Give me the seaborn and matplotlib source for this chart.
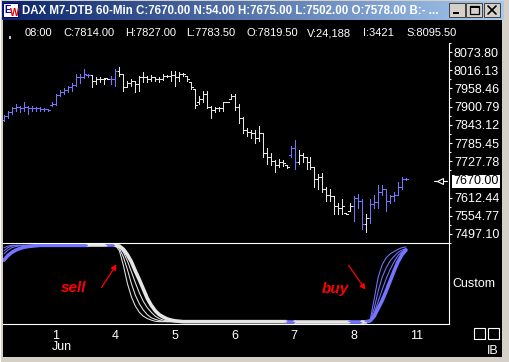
import numpy as np
import pandas as pd
import matplotlib
matplotlib.use("Agg")
import matplotlib.pyplot as plt
import seaborn as sns
from matplotlib.patches import Rectangle
from matplotlib.colors import LinearSegmentedColormap

sns.set_style("dark")
plt.rcParams['font.family'] = ['Liberation Sans', 'DejaVu Sans']

# ---- data (60-min DAX bars, 31 May .. 8 Jun) ----
highs = [7873, 7886, 7901, 7910, 7904, 7914, 7904, 7904, 7901, 7901, 7898, 7892, 7917, 7941, 7954, 7960, 7966, 7976,
         8003, 8003, 8019, 8003, 8000, 7994, 7994, 7991, 7991, 7997, 8019, 8025, 8003, 7982, 7988, 7982, 7997, 8010,
         7997, 8000, 7994, 7994, 8003, 8000, 8013, 8013, 8010, 8007, 7997, 7979, 7957, 7935, 7951, 7951, 7904, 7901,
         7901, 7917, 7917, 7941, 7941, 7910, 7867, 7833, 7827, 7827, 7839, 7817, 7771, 7755, 7731, 7734, 7731, 7715,
         7777, 7796, 7762, 7755, 7740, 7740, 7709, 7687, 7690, 7647, 7641, 7616, 7594, 7607, 7563, 7594, 7616, 7625,
         7607, 7560, 7607, 7622, 7653, 7653, 7641, 7622, 7631, 7662, 7678, 7675]
lows = [7855, 7864, 7879, 7886, 7883, 7886, 7879, 7886, 7886, 7886, 7886, 7886, 7904, 7907, 7935, 7941, 7948, 7951,
        7966, 7976, 7991, 7994, 7963, 7972, 7979, 7972, 7988, 7972, 7966, 7997, 7951, 7963, 7966, 7948, 7951, 7979,
        7979, 7982, 7982, 7979, 7985, 7994, 7982, 7966, 7982, 7997, 7982, 7957, 7895, 7910, 7917, 7895, 7864, 7883,
        7886, 7886, 7914, 7926, 7889, 7848, 7817, 7808, 7802, 7786, 7793, 7740, 7718, 7715, 7693, 7709, 7712, 7706,
        7740, 7703, 7718, 7724, 7703, 7703, 7647, 7638, 7631, 7600, 7600, 7560, 7560, 7560, 7560, 7569, 7538, 7579,
        7514, 7502, 7532, 7579, 7579, 7622, 7569, 7594, 7600, 7625, 7641, 7669]
opens = [7858, 7870, 7883, 7895, 7901, 7895, 7901, 7895, 7895, 7895, 7892, 7892, 7907, 7910, 7938, 7948, 7954, 7963,
         7969, 7994, 7994, 8000, 8000, 7982, 7988, 7988, 7991, 7988, 7988, 8013, 8003, 7963, 7976, 7982, 7972, 7994,
         7994, 7988, 7994, 7988, 7988, 7997, 7997, 8000, 7994, 8003, 7997, 7979, 7957, 7914, 7926, 7941, 7901, 7889,
         7895, 7895, 7914, 7926, 7935, 7901, 7864, 7827, 7821, 7817, 7802, 7817, 7755, 7740, 7728, 7715, 7724, 7715,
         7746, 7771, 7724, 7746, 7740, 7724, 7709, 7672, 7678, 7641, 7622, 7616, 7585, 7579, 7563, 7569, 7585, 7610,
         7600, 7529, 7548, 7591, 7597, 7631, 7641, 7600, 7616, 7622, 7647, 7672]
closes = [7870, 7883, 7895, 7901, 7895, 7901, 7895, 7895, 7895, 7892, 7892, 7889, 7910, 7938, 7948, 7954, 7963, 7969,
          7994, 7994, 8003, 8000, 7982, 7988, 7988, 7988, 7988, 7988, 8013, 8003, 7963, 7976, 7982, 7972, 7994, 7994,
          7988, 7994, 7988, 7988, 7997, 7997, 8000, 7994, 8003, 8003, 7988, 7963, 7907, 7926, 7941, 7901, 7889, 7895,
          7895, 7914, 7914, 7935, 7901, 7864, 7827, 7821, 7817, 7802, 7817, 7755, 7740, 7728, 7715, 7724, 7721, 7709,
          7771, 7724, 7746, 7740, 7724, 7709, 7672, 7678, 7641, 7622, 7616, 7585, 7579, 7585, 7560, 7585, 7610, 7600,
          7529, 7548, 7591, 7597, 7631, 7641, 7600, 7616, 7622, 7647, 7672, 7670]
# b = blue (long), w = white (short)
state = ['b'] * 22 + ['w'] * 5 + ['b'] * 2 + ['w'] * 43 + ['b'] * 2 + ['w'] * 14 + ['b'] * 3 + ['w'] + ['b'] * 10

# "Custom" indicator, four lines (0..100)
ind_main = ([80, 86, 90, 93, 95, 96.5, 97.5, 98, 98.5] + [99] * 20 +
            [98, 94, 87, 78, 66, 55, 43, 31, 22, 15, 10, 7, 4.5, 3, 2, 1.5, 1] + [1] * 46 +
            [2, 8, 18, 28, 40, 53, 66, 78, 87, 93])
ind_a = ([96, 98, 99] + [99] * 26 + [92, 73, 50, 33, 21, 13, 8, 5, 3, 1.5, 1] + [1] * 52 +
         [3, 30, 58, 74, 83, 88, 91, 94, 96, 97])
ind_b = ([92, 96, 98, 99] + [99] * 25 + [95, 84, 68, 50, 35, 24, 16, 10, 6, 4, 2.5, 1.5, 1] + [1] * 50 +
         [2, 18, 40, 58, 70, 79, 85, 90, 93, 95])
ind_c = ([88, 93, 96, 97.5, 98.5, 99] + [99] * 23 + [97, 90, 79, 65, 51, 38, 27, 19, 13, 8, 5, 3, 2, 1] + [1] * 49 +
         [2, 12, 27, 42, 56, 68, 78, 86, 91, 94])

price_ticks = [8073.80, 8016.13, 7958.46, 7900.79, 7843.12, 7785.45, 7727.78, 7612.44, 7554.77, 7497.10]
last_price = 7670.00
day_pos = [12, 27, 42, 57, 72, 87, 102]
day_labels = ['1', '4', '5', '6', '7', '8', '11']

title = "DAX M7-DTB 60-Min C:7670.00 N:54.00 H:7675.00 L:7502.00 O:7578.00 B:- ..."
info = ["08:00", "C:7814.00", "H:7827.00", "L:7783.50", "O:7819.50", "V:24,188", "I:3421", "S:8095.50"]
info_x = [25, 63, 125, 186, 247, 307, 363, 406]

BLUE = '#7474ff'
WHITE = '#e6e6e6'
df = pd.DataFrame({'bar': np.arange(len(highs)), 'high': highs, 'low': lows,
                   'open': opens, 'close': closes, 'state': state})
df['color'] = df['state'].map({'b': BLUE, 'w': WHITE})

W, H = 509, 362
fig = plt.figure(figsize=(W / 100, H / 100), dpi=100, facecolor='#d4d0c8')


def px_axes(l, t, r, b, **kw):
    return fig.add_axes([l / W, 1 - b / H, (r - l) / W, (b - t) / H], **kw)


# window chrome
bg = fig.add_axes([0, 0, 1, 1], zorder=0)
bg.axis('off')
cm = LinearSegmentedColormap.from_list('tb', ['#0a246a', '#a6caf0'])
bg.imshow(np.linspace(0, 1, 256)[None, :], extent=(2, 504, 20, 1), cmap=cm, aspect='auto')
bg.add_patch(Rectangle((3, 20), 499, 337, fc='black', ec='none'))
bg.add_patch(Rectangle((0, 0), 1, H, fc='white', ec='none'))
bg.set_xlim(0, W)
bg.set_ylim(H, 0)
bg.add_patch(Rectangle((3, 3), 15, 14, fc='white', ec='#000080', lw=0.7))
bg.text(4.5, 10, 'E', color='#0000c0', fontsize=7, fontweight='bold', va='center', ha='left')
bg.text(9.5, 13, 'W', color='#e00000', fontsize=7, fontweight='bold', va='center', ha='left')
bg.text(22, 11, title, color='white', fontsize=8.3, fontweight='bold', va='center', ha='left')
for bx in [449, 466, 484]:
    bg.add_patch(Rectangle((bx, 3), 16, 14, fc='#d4d0c8', ec='#404040', lw=0.7))
bg.add_patch(Rectangle((453, 12), 6, 2, fc='black', ec='none'))
bg.add_patch(Rectangle((470, 6), 9, 8, fc='none', ec='black', lw=0.9))
bg.add_patch(Rectangle((470, 6), 9, 1.5, fc='black', ec='none'))
bg.plot([488, 496], [6, 14], color='black', lw=1.2)
bg.plot([488, 496], [14, 6], color='black', lw=1.2)
bg.add_patch(Rectangle((9, 36), 2, 3, fc='#c8c8c8', ec='none'))
for s, x in zip(info, info_x):
    bg.text(x, 33, s, color='white', fontsize=8, va='center', ha='left')

# price pane
pax = px_axes(3, 43, 449, 243, zorder=2)
pax.set_facecolor('none')
pax.set_xlim(-0.25, 111.8)
pax.set_ylim(7482.6, 8102.6)
pax.vlines(df['bar'], df['low'], df['high'], colors=df['color'], lw=0.72, antialiased=False)
pax.hlines(df['open'], df['bar'] - 0.5, df['bar'], colors=df['color'], lw=0.72, antialiased=False)
pax.hlines(df['close'], df['bar'], df['bar'] + 0.5, colors=df['color'], lw=0.72, antialiased=False)
for sp in ['top', 'left', 'bottom']:
    pax.spines[sp].set_visible(False)
pax.spines['right'].set_color('white')
pax.spines['right'].set_linewidth(0.8)
pax.yaxis.tick_right()
pax.set_yticks(price_ticks)
pax.set_yticklabels([f"{v:.2f}" for v in price_ticks])
pax.set_yticks([v - 57.67 / 2 for v in price_ticks] + [price_ticks[0] + 57.67 / 2], minor=True)
pax.tick_params(axis='y', which='major', colors='white', length=2.5, width=0.8, pad=1, labelsize=9,
                direction='out', right=True, left=False)
pax.tick_params(axis='y', which='minor', colors='white', length=1.5, width=0.8, right=True, left=False)
pax.set_xticks([])
pax.grid(False)

# indicator pane
iax = px_axes(3, 243, 449, 324, zorder=2)
iax.set_facecolor('none')
iax.set_xlim(-0.25, 111.8)
iax.set_ylim(-2, 102)
bars = np.arange(len(state))


def draw_indicator(vals, lw):
    a = 0
    n = len(vals)
    while a < n:
        b = a
        while b + 1 < n and state[b + 1] == state[a]:
            b += 1
        s0 = max(a - 1, 0)
        sns.lineplot(x=bars[s0:b + 1], y=vals[s0:b + 1], color=BLUE if state[a] == 'b' else WHITE,
                     lw=lw, ax=iax, estimator=None, sort=False, legend=False)
        a = b + 1


draw_indicator(ind_main, 2.6)
draw_indicator(ind_c, 0.75)
draw_indicator(ind_b, 0.75)
draw_indicator(ind_a, 0.75)
iax.spines['left'].set_visible(False)
for sp in ['top', 'bottom', 'right']:
    iax.spines[sp].set_color('white')
    iax.spines[sp].set_linewidth(0.8)
iax.set_yticks([])
iax.set_xticks(day_pos)
iax.set_xticklabels(day_labels)
for lab in iax.get_xticklabels():
    lab.set_horizontalalignment('left')
iax.tick_params(axis='x', colors='white', length=3, width=0.8, pad=1, labelsize=9, direction='out')
iax.set_xlabel('')
iax.set_ylabel('')
iax.grid(False)

# overlay annotations
ov = fig.add_axes([0, 0, 1, 1], zorder=5)
ov.set_facecolor('none')
ov.set_xlim(0, W)
ov.set_ylim(H, 0)
ov.axis('off')
ov.text(52, 347, 'Jun', color='white', fontsize=9, va='center', ha='left')
ov.add_patch(Rectangle((452, 175), 48, 13, fc='white', ec='none'))
ov.text(453, 181.5, f"{last_price:.2f}", color='black', fontsize=9, va='center', ha='left')
ov.plot([434, 447], [181, 181], color='white', lw=0.8)
ov.plot([440], [181], marker='<', ms=4, mfc='black', mec='white', mew=0.8)
ov.text(474, 284, 'Custom', color='white', fontsize=9, va='center', ha='center')
ov.add_patch(Rectangle((474, 328), 11, 11, fc='none', ec='white', lw=0.8))
ov.add_patch(Rectangle((488, 328), 11, 11, fc='none', ec='white', lw=0.8))
ov.text(499, 351, 'IB', color='white', fontsize=9, va='center', ha='right')
ov.text(61, 288, 'sell', color='red', fontsize=11, fontweight='bold', fontstyle='italic', va='center', ha='left')
ov.text(322, 289, 'buy', color='red', fontsize=11, fontweight='bold', fontstyle='italic', va='center', ha='left')
ov.annotate('', xy=(118, 262), xytext=(100, 290),
            arrowprops=dict(arrowstyle='-|>', color='red', lw=0.9, mutation_scale=8))
ov.annotate('', xy=(367, 292), xytext=(347, 263),
            arrowprops=dict(arrowstyle='-|>', color='red', lw=0.9, mutation_scale=8))

fig.savefig('out.png', dpi=100, facecolor=fig.get_facecolor())
